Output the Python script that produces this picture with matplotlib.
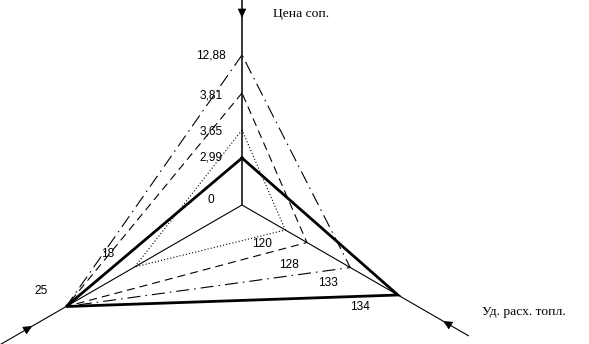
import numpy as np
import matplotlib.pyplot as plt
from matplotlib.patches import Polygon

# three schematic axes: price (up), left (down-left), specific fuel use (down-right)
# each variant is a triangle; r = how far out along the axis its point sits
variants = ["base", "v1", "v2", "v3"]
price_labels = ["2,99", "3,65", "3,81", "12,88"]
price_r = [47, 75, 112, 150]
left_labels = ["25", "18", "25", "25"]
left_r = [203, 124, 203, 203]
fuel_labels = ["134", "120", "128", "133"]
fuel_r = [180, 50, 75, 125]

title_top = "Цена соп."
title_right = "Уд. расх. топл."

# line styles per variant (linewidth pt, dash pattern in pt)
styles = [
    (2.0, None),
    (0.8, (0, (0.8, 1.5))),
    (0.8, (0, (5.8, 3.6))),
    (0.8, (0, (9.4, 3.6, 1.1, 3.6))),
]

plt.rcParams["lines.scale_dashes"] = False
num_font = dict(family="Liberation Sans", fontsize=8.6)
title_font = dict(family="Liberation Serif", fontsize=9.7)

ang = np.deg2rad(30)
d_top = np.array([0.0, 1.0])
d_left = np.array([-np.cos(ang), -np.sin(ang)])
d_right = np.array([np.cos(ang), -np.sin(ang)])

fig = plt.figure(figsize=(5.89, 3.44), dpi=100)
ax = fig.add_axes([0, 0, 1, 1])
ax.set_xlim(-242, 347)
ax.set_ylim(-139, 205)
ax.set_aspect("equal")
ax.axis("off")

# axes lines with arrows pointing to the centre
for d, r_end, r_tip, lw in [(d_top, 215, 188, 1.1), (d_left, 285, 243, 0.8),
                            (d_right, 262, 233, 0.8)]:
    ax.plot([0, d[0] * r_end], [0, d[1] * r_end], color="k", lw=lw,
            solid_capstyle="butt")
    tip = d * r_tip
    base = d * (r_tip + 8)
    perp = np.array([-d[1], d[0]]) * 3.8
    ax.add_patch(Polygon([tip, base + perp, base - perp], closed=True,
                         facecolor="k", edgecolor="k", lw=0.5))

# variant triangles
for i in range(len(variants)):
    p_top = d_top * price_r[i]
    p_left = d_left * left_r[i]
    p_right = d_right * fuel_r[i]
    xs = [p_top[0], p_left[0], p_right[0], p_top[0]]
    ys = [p_top[1], p_left[1], p_right[1], p_top[1]]
    lw, dash = styles[i]
    if dash is None:
        ax.plot(xs, ys, color="k", lw=lw, solid_joinstyle="miter")
    else:
        ax.plot(xs, ys, color="k", lw=lw, linestyle=dash)

# price labels, centred left of the vertical axis
price_dy = [0, -2, -3, 0]
for i, lab in enumerate(price_labels):
    ax.text(-31, price_r[i] + price_dy[i], lab, ha="center", va="center", **num_font)
ax.text(-31, 5, "0", ha="center", va="center", **num_font)

# fuel labels under the bottom edges
fuel_off = [(-38, -12), (-23, -14), (-18, -22), (-22, -15)]
for i, lab in enumerate(fuel_labels):
    p = d_right * fuel_r[i]
    ax.text(p[0] + fuel_off[i][0], p[1] + fuel_off[i][1], lab,
            ha="center", va="center", **num_font)

# left labels (only distinct ones)
left_off = {"25": (-25, 16), "18": (-27, 13)}
shown = set()
for i, lab in enumerate(left_labels):
    if lab in shown:
        continue
    shown.add(lab)
    p = d_left * left_r[i]
    ax.text(p[0] + left_off[lab][0], p[1] + left_off[lab][1], lab,
            ha="center", va="center", **num_font)

ax.text(31, 191, title_top, ha="left", va="center", **title_font)
ax.text(240, -107, title_right, ha="left", va="center", **title_font)

fig.savefig("out.png", dpi=100)
